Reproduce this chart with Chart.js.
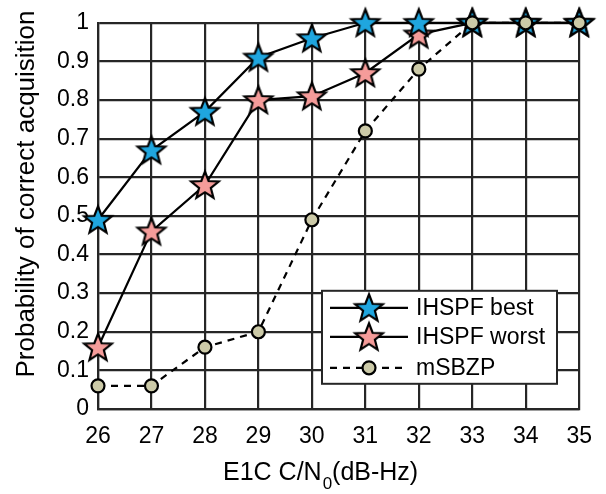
<!DOCTYPE html>
<html>
<head>
<meta charset="utf-8">
<script src="https://cdn.jsdelivr.net/npm/chart.js@4.4.1/dist/chart.umd.min.js"></script>
<style>
  html, body { margin: 0; padding: 0; background: #fff; }
  #wrap { width: 606px; height: 494px; }
</style>
</head>
<body>
<div id="wrap"><canvas id="acqChart" width="606" height="494"></canvas></div>
<script>
const cnr = ['26', '27', '28', '29', '30', '31', '32', '33', '34', '35'];
const ihspfBest = [0.49, 0.67, 0.77, 0.91, 0.96, 1, 1, 1, 1, 1];
const ihspfWorst = [0.16, 0.46, 0.58, 0.80, 0.81, 0.87, 0.97, 1, 1, 1];
const msbzp = [0.06, 0.06, 0.16, 0.20, 0.49, 0.72, 0.88, 1, 1, 1];
const yTickLabels = ['0', '0.1', '0.2', '0.3', '0.4', '0.5', '0.6', '0.7', '0.8', '0.9', '1'];

const blueStar = '#1fa6df';
const pinkStar = '#f59c9a';
const circleFill = '#cccaa8';
const fontFamily = '"Liberation Sans", Arial, sans-serif';

// five pointed star drawn on a small canvas, used as point style
function makeStar(fill) {
    const size = 36;
    const c = document.createElement('canvas');
    c.width = size;
    c.height = size;
    const g = c.getContext('2d');
    const cx = size / 2, cy = size / 2 + 1;
    const outer = 14.5, inner = 6.2;
    g.beginPath();
    for (let i = 0; i < 10; i++) {
        const r = i % 2 === 0 ? outer : inner;
        const a = -Math.PI / 2 + i * Math.PI / 5;
        const px = cx + r * Math.cos(a);
        const py = cy + r * Math.sin(a);
        if (i === 0) g.moveTo(px, py); else g.lineTo(px, py);
    }
    g.closePath();
    g.fillStyle = fill;
    g.fill();
    g.lineWidth = 2.2;
    g.lineJoin = 'miter';
    g.strokeStyle = '#000';
    g.stroke();
    return c;
}

const starBlue = makeStar(blueStar);
const starPink = makeStar(pinkStar);

// legend box with line samples and markers, plus axis titles
const customDraw = {
    id: 'customDraw',
    afterDraw(chart) {
        const g = chart.ctx;
        const area = chart.chartArea;
        g.save();

        // y axis title
        g.fillStyle = '#000';
        g.save();
        g.translate(27, 194);
        g.rotate(-Math.PI / 2);
        g.font = '26px ' + fontFamily;
        g.textAlign = 'center';
        g.textBaseline = 'middle';
        g.fillText('Probability of correct acquisition', 0, 0);
        g.restore();

        // x axis title, N with subscript 0
        g.textBaseline = 'alphabetic';
        g.textAlign = 'left';
        g.font = '25px ' + fontFamily;
        let tx = 223, ty = 480;
        g.fillText('E1C C/N', tx, ty);
        tx += g.measureText('E1C C/N').width;
        g.font = '17px ' + fontFamily;
        g.fillText('0', tx + 1, ty + 9);
        tx += g.measureText('0').width + 1;
        g.font = '25px ' + fontFamily;
        g.fillText('(dB-Hz)', tx, ty);

        // legend
        const lx = area.left + 224, ly = area.top + 268;
        const lw = 235, lh = 93;
        g.fillStyle = '#fff';
        g.fillRect(lx, ly, lw, lh);
        g.lineWidth = 2;
        g.strokeStyle = '#262626';
        g.strokeRect(lx, ly, lw, lh);

        const rows = [
            { label: 'IHSPF best', dy: 17, dash: [], marker: starBlue },
            { label: 'IHSPF worst', dy: 46, dash: [], marker: starPink },
            { label: 'mSBZP', dy: 77, dash: [7, 6], marker: null }
        ];
        rows.forEach(row => {
            const y = ly + row.dy;
            g.beginPath();
            g.setLineDash(row.dash);
            g.lineWidth = 2.2;
            g.strokeStyle = '#000';
            g.moveTo(lx + 8, y);
            g.lineTo(lx + 86, y);
            g.stroke();
            g.setLineDash([]);
            const mx = lx + 47;
            if (row.marker) {
                g.drawImage(row.marker, mx - 18, y - 18);
            } else {
                g.beginPath();
                g.arc(mx, y, 6.5, 0, Math.PI * 2);
                g.fillStyle = circleFill;
                g.fill();
                g.lineWidth = 2.2;
                g.strokeStyle = '#000';
                g.stroke();
            }
            g.fillStyle = '#000';
            g.font = '23px ' + fontFamily;
            g.textBaseline = 'middle';
            g.fillText(row.label, lx + 94, y + 1);
        });
        g.restore();
    }
};

const ctx = document.getElementById('acqChart').getContext('2d');
const acqChart = new Chart(ctx, {
    type: 'line',
    data: {
        labels: cnr,
        datasets: [
            {
                label: 'mSBZP',
                data: msbzp,
                borderColor: '#000',
                borderWidth: 2.2,
                borderDash: [7, 6],
                pointStyle: 'circle',
                pointRadius: 6.5,
                pointBackgroundColor: circleFill,
                pointBorderColor: '#000',
                pointBorderWidth: 2.2,
                tension: 0,
                clip: false
            },
            {
                label: 'IHSPF best',
                data: ihspfBest,
                borderColor: '#000',
                borderWidth: 2.2,
                pointStyle: starBlue,
                pointRadius: 14,
                tension: 0,
                clip: false
            },
            {
                label: 'IHSPF worst',
                data: ihspfWorst,
                borderColor: '#000',
                borderWidth: 2.2,
                pointStyle: starPink,
                pointRadius: 14,
                tension: 0,
                clip: false
            }
        ]
    },
    options: {
        responsive: false,
        animation: false,
        events: [],
        layout: { padding: { left: 0, right: 20, top: 22, bottom: 0 } },
        plugins: {
            legend: { display: false },
            tooltip: { enabled: false }
        },
        scales: {
            x: {
                type: 'category',
                offset: false,
                grid: { color: '#262626', lineWidth: 2.2, drawTicks: false },
                border: { color: '#262626', width: 2.2 },
                ticks: {
                    color: '#000',
                    font: { size: 23, family: fontFamily },
                    padding: 14,
                    maxRotation: 0,
                    autoSkip: false
                },
                afterFit(scale) { scale.height = 85; }
            },
            y: {
                min: 0,
                max: 1,
                grid: { color: '#262626', lineWidth: 2.2, drawTicks: false },
                border: { color: '#262626', width: 2.2 },
                ticks: {
                    stepSize: 0.1,
                    color: '#000',
                    font: { size: 23, family: fontFamily },
                    padding: 9,
                    callback: (value) => yTickLabels[Math.round(value * 10)]
                },
                afterFit(scale) { scale.width = 98; }
            }
        }
    },
    plugins: [customDraw]
});
</script>
</body>
</html>
